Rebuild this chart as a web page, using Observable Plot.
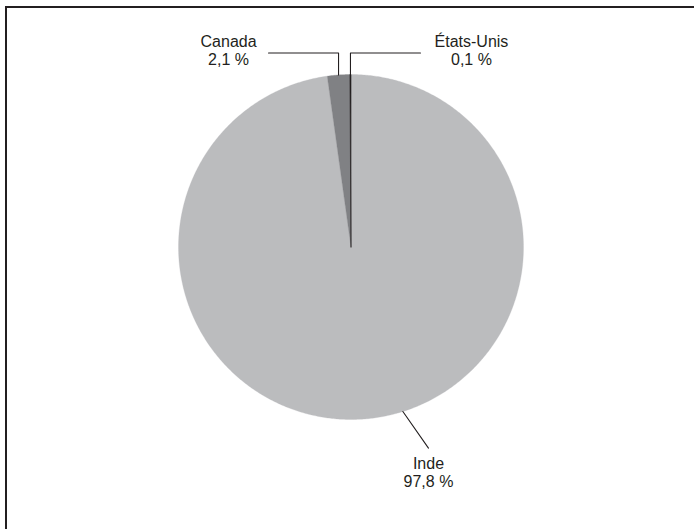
<!DOCTYPE html>
<html>
<head>
<meta charset="utf-8">
<script src="https://cdn.jsdelivr.net/npm/d3@7"></script>
<script src="https://cdn.jsdelivr.net/npm/@observablehq/plot@0.6"></script>
<style>
  html, body { margin: 0; padding: 0; background: #fff; overflow: hidden; }
  #wrap { position: relative; width: 694px; height: 529px; overflow: hidden; background: #fff; }
  #frame { position: absolute; left: 5px; top: 6px; width: 800px; height: 700px; border: 2px solid #231f20; box-sizing: border-box; }
  #chart { position: absolute; left: 0; top: 0; }
</style>
</head>
<body>
<div id="wrap"><div id="chart"></div><div id="frame"></div></div>
<script>
// Data
const categories = ["Inde", "Canada", "États-Unis"];
const values = [97.8, 2.1, 0.1];
const valueLabels = ["97,8 %", "2,1 %", "0,1 %"];
const colors = ["#bbbcbe", "#808184", "#231f20"];

// Layout / styling (pixels)
const R = 172.5, CX = 350.5, CY = 246.5;
const leaderStyle = [
  {type: "diag", angleDeg: 162.5, ddx: 25.6, ddy: 36.6, tdx: 0, tdy: 8, anchor: "top"},
  {type: "elbow", elbowY: 52.5, run: -70, tdx: -40, tdy: -3, anchor: "middle"},
  {type: "elbow", elbowY: 52.5, run: 70, tdx: 51, tdy: -3, anchor: "middle"}
];

const pxX = px => (px - CX) / R;
const pxY = py => (CY - py) / R;

const arcs = d3.pie().sort(null).value(d => d)(values);

const slices = arcs.map((a, i) => {
  const pts = [{x: 0, y: 0}];
  const n = Math.max(2, Math.ceil((a.endAngle - a.startAngle) / (Math.PI / 360)) + 1);
  for (let k = 0; k < n; k++) {
    const t = a.startAngle + (a.endAngle - a.startAngle) * k / (n - 1);
    pts.push({x: Math.sin(t), y: Math.cos(t)});
  }
  pts.push({x: 0, y: 0});
  return pts;
});

const leaders = arcs.map((a, i) => {
  const s = leaderStyle[i];
  if (s.type === "elbow") {
    const mid = (a.startAngle + a.endAngle) / 2;
    const p0 = {x: Math.sin(mid), y: Math.cos(mid)};
    const p1 = {x: p0.x, y: pxY(s.elbowY)};
    const p2 = {x: p0.x + s.run / R, y: p1.y};
    return [p0, p1, p2];
  } else {
    const t = s.angleDeg * Math.PI / 180;
    const p0 = {x: Math.sin(t), y: Math.cos(t)};
    const p2 = {x: p0.x + s.ddx / R, y: p0.y - s.ddy / R};
    return [p0, p2];
  }
});

const marks = [];
slices.forEach((pts, i) => {
  marks.push(Plot.line(pts, {x: "x", y: "y", fill: colors[i], stroke: colors[i], strokeWidth: i === 2 ? 0.6 : 0.3, curve: "linear"}));
});
leaders.forEach((pts, i) => {
  marks.push(Plot.line(pts, {x: "x", y: "y", stroke: "#231f20", strokeWidth: 1.1}));
  const end = pts[pts.length - 1];
  const s = leaderStyle[i];
  marks.push(Plot.text([end], {
    x: "x", y: "y",
    text: () => categories[i] + "\n" + valueLabels[i],
    dx: s.tdx, dy: s.tdy,
    lineAnchor: s.anchor, textAnchor: "middle",
    lineHeight: 1.13, fontSize: 16, fill: "#231f20"
  }));
});

const chart = Plot.plot({
  width: 694, height: 529,
  marginTop: 0, marginRight: 0, marginBottom: 0, marginLeft: 0,
  x: {type: "linear", domain: [-1, 1], range: [CX - R, CX + R], axis: null},
  y: {type: "linear", domain: [-1, 1], range: [CY + R, CY - R], axis: null},
  style: {background: "#fff", fontFamily: "'Liberation Sans', Arial, sans-serif"},
  marks
});
document.getElementById("chart").appendChild(chart);
</script>
</body>
</html>
